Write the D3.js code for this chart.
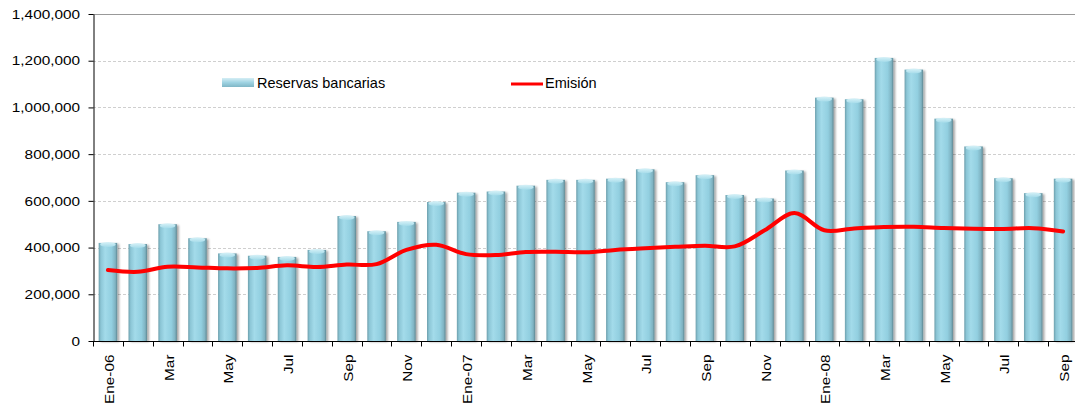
<!DOCTYPE html>
<html><head><meta charset="utf-8">
<script src="https://cdn.jsdelivr.net/npm/d3@7"></script>
<style>body{margin:0;background:#fff}svg{display:block}</style>
</head><body>
<script>
const categories = ["Ene-06","Feb-06","Mar-06","Abr-06","May-06","Jun-06","Jul-06","Ago-06","Sep-06","Oct-06","Nov-06","Dic-06",
"Ene-07","Feb-07","Mar-07","Abr-07","May-07","Jun-07","Jul-07","Ago-07","Sep-07","Oct-07","Nov-07","Dic-07",
"Ene-08","Feb-08","Mar-08","Abr-08","May-08","Jun-08","Jul-08","Ago-08","Sep-08"];
const tickLabels = ["Ene-06","","Mar","","May","","Jul","","Sep","","Nov","",
"Ene-07","","Mar","","May","","Jul","","Sep","","Nov","",
"Ene-08","","Mar","","May","","Jul","","Sep"];
const reservas = [420000,415000,500000,440000,375000,365000,360000,390000,535000,470000,510000,595000,
635000,640000,665000,690000,690000,695000,735000,680000,710000,625000,610000,730000,
1042000,1035000,1212000,1162000,952000,833000,697000,633000,695000];
const emision = [304000,296000,318000,315000,311000,313000,324000,317000,327000,329000,390000,412000,
372000,368000,381000,382000,380000,390000,397000,403000,408000,405000,474000,548000,
474000,482000,488000,489000,484000,481000,480000,483000,469000];
const yTicks = [0,200000,400000,600000,800000,1000000,1200000,1400000];
const seriesNames = ["Reservas bancarias","Emisión"];

const W=1075,H=406, L=93, R=1078, T=14, B=341;
const FONT="Liberation Sans, Arial, sans-serif", STR=1.18;
const svg=d3.select("body").append("svg").attr("width",W).attr("height",H);
const defs=svg.append("defs");
const g1=defs.append("linearGradient").attr("id","barg").attr("x1","0").attr("x2","1").attr("y1","0").attr("y2","0");
[[0,"#6d9fac"],[0.12,"#8cc6d6"],[0.35,"#a3dbea"],[0.7,"#92cfe0"],[0.9,"#7fb3c2"],[1,"#5d8792"]].forEach(s=>g1.append("stop").attr("offset",s[0]).attr("stop-color",s[1]));
const g2=defs.append("linearGradient").attr("id","capg").attr("x1","0").attr("x2","0").attr("y1","0").attr("y2","1");
[[0,"#d8f2f8"],[1,"#a6dcea"]].forEach(s=>g2.append("stop").attr("offset",s[0]).attr("stop-color",s[1]));
const g3=defs.append("linearGradient").attr("id","legg").attr("x1","0").attr("x2","0").attr("y1","0").attr("y2","1");
[[0,"#d5eef5"],[0.5,"#9fd3e2"],[1,"#7fb6c6"]].forEach(s=>g3.append("stop").attr("offset",s[0]).attr("stop-color",s[1]));
const flt=defs.append("filter").attr("id","sh").attr("x","-30%").attr("y","-5%").attr("width","160%").attr("height","110%");
flt.append("feGaussianBlur").attr("in","SourceAlpha").attr("stdDeviation",1.2);
flt.append("feOffset").attr("dx",1.5).attr("dy",0.5).attr("result","b");
flt.append("feComponentTransfer").append("feFuncA").attr("type","linear").attr("slope",0.35);
const fm=flt.append("feMerge"); fm.append("feMergeNode"); fm.append("feMergeNode").attr("in","SourceGraphic");

const x=d3.scaleBand().domain(categories).range([L,R]).paddingInner(0.38).paddingOuter(0.19);
const y=d3.scaleLinear().domain([0,1400000]).range([B,T]);

// gridlines
svg.append("g").selectAll("line").data(yTicks.filter(d=>d>0)).join("line")
 .attr("x1",L).attr("x2",W).attr("y1",d=>Math.round(y(d))+0.5).attr("y2",d=>Math.round(y(d))+0.5)
 .attr("stroke",d=>d===1400000?"#999":"#cfcfcf").attr("stroke-width",1)
 .attr("stroke-dasharray",d=>d===1400000?null:"3,2");

// bars
const bars=svg.append("g");
bars.selectAll("rect").data(reservas).join("rect")
 .attr("x",(d,i)=>x(categories[i])).attr("width",x.bandwidth())
 .attr("y",d=>y(d)).attr("height",d=>B-y(d)).attr("fill","url(#barg)").attr("filter","url(#sh)");
bars.selectAll("ellipse").data(reservas).join("ellipse")
 .attr("cx",(d,i)=>x(categories[i])+x.bandwidth()/2).attr("cy",d=>y(d)+1.5)
 .attr("rx",x.bandwidth()/2-1.5).attr("ry",2.5).attr("fill","url(#capg)");

// line
const line=d3.line().x((d,i)=>x(categories[i])+x.bandwidth()/2).y(d=>y(d)).curve(d3.curveCatmullRom.alpha(0.5));
svg.append("path").datum(emision).attr("d",line).attr("fill","none").attr("stroke","#ff0000").attr("stroke-width",4).attr("stroke-linejoin","round").attr("stroke-linecap","round");

// y axis
const ya=svg.append("g").attr("transform",`translate(${L+0.5},0)`)
 .call(d3.axisLeft(y).tickValues(yTicks).tickFormat(d3.format(",")).tickSize(5).tickSizeOuter(0));
ya.select(".domain").attr("stroke","#000");
ya.selectAll("line").attr("stroke","#000");
ya.selectAll("text").attr("font-family",FONT).attr("font-size",13).attr("fill","#000")
 .attr("x",-13.5/STR).attr("transform",`scale(${STR},1)`);

// x axis
const xs=d3.scaleLinear().domain([0,categories.length]).range([L,R]);
const xa=svg.append("g").attr("transform",`translate(0,${B+0.5})`);
xa.append("line").attr("x1",L).attr("x2",W).attr("stroke","#000");
xa.selectAll(".tk").data(d3.range(categories.length+1)).join("line").attr("class","tk")
 .attr("x1",d=>Math.round(xs(d))+0.5).attr("x2",d=>Math.round(xs(d))+0.5).attr("y1",0).attr("y2",5).attr("stroke","#000");
xa.selectAll("text").data(tickLabels).join("text")
 .attr("transform",(d,i)=>`translate(${x(categories[i])+x.bandwidth()/2+6},13) rotate(-90) scale(${STR},1)`)
 .attr("text-anchor","end").attr("font-family",FONT).attr("font-size",13).attr("fill","#000")
 .text(d=>d);

// legend
const lg=svg.append("g");
lg.append("rect").attr("x",222).attr("y",78).attr("width",32).attr("height",9).attr("fill","url(#legg)");
lg.append("text").attr("x",257).attr("y",88).attr("font-family",FONT).attr("font-size",14.5).text(seriesNames[0]);
lg.append("line").attr("x1",511).attr("x2",543).attr("y1",84).attr("y2",84).attr("stroke","#ff0000").attr("stroke-width",3);
lg.append("text").attr("x",545).attr("y",88).attr("font-family",FONT).attr("font-size",14.5).text(seriesNames[1]);
</script>
</body></html>
